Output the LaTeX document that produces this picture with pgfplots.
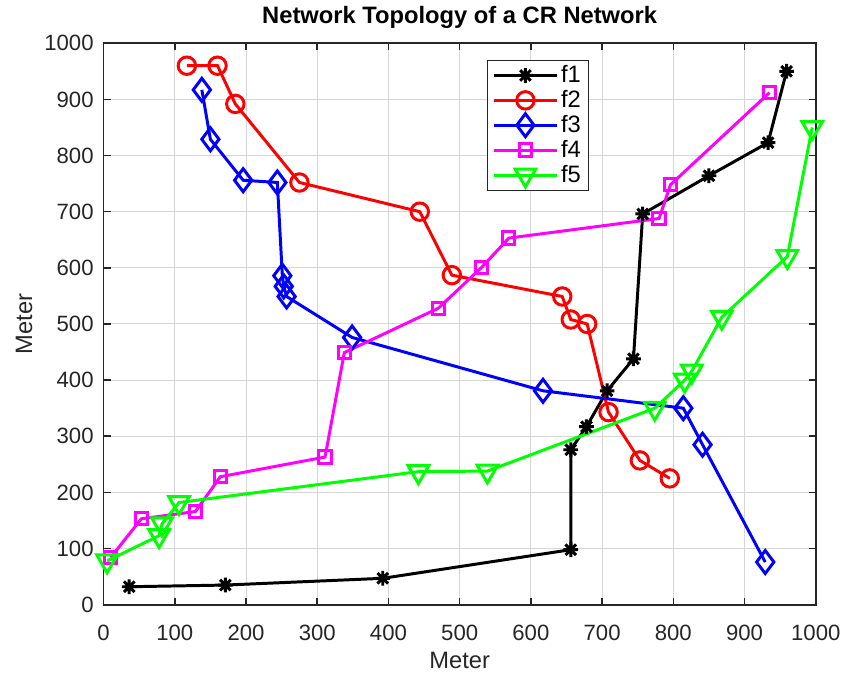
\documentclass[border=0pt]{standalone}
\usepackage{pgfplots}
\pgfplotsset{compat=1.18}
\usepackage{fontspec}
\setmainfont{Liberation Sans}

\definecolor{axgray}{HTML}{262626}
\definecolor{fmag}{rgb}{1,0,1}
\definecolor{fgreen}{rgb}{0,1,0}
\definecolor{fred}{rgb}{1,0,0}
\definecolor{fblue}{rgb}{0,0,1}

% eight-armed asterisk (plus and cross)
\pgfdeclareplotmark{mstar}{%
  \pgfpathmoveto{\pgfqpoint{0pt}{\pgfplotmarksize}}%
  \pgfpathlineto{\pgfqpoint{0pt}{-\pgfplotmarksize}}%
  \pgfpathmoveto{\pgfqpoint{\pgfplotmarksize}{0pt}}%
  \pgfpathlineto{\pgfqpoint{-\pgfplotmarksize}{0pt}}%
  \pgfpathmoveto{\pgfqpoint{0.72\pgfplotmarksize}{0.72\pgfplotmarksize}}%
  \pgfpathlineto{\pgfqpoint{-0.72\pgfplotmarksize}{-0.72\pgfplotmarksize}}%
  \pgfpathmoveto{\pgfqpoint{-0.72\pgfplotmarksize}{0.72\pgfplotmarksize}}%
  \pgfpathlineto{\pgfqpoint{0.72\pgfplotmarksize}{-0.72\pgfplotmarksize}}%
  \pgfusepathqstroke}

\begin{document}
\begin{tikzpicture}
\begin{axis}[
  scale only axis,
  width=359bp, height=283bp,
  xmin=0, xmax=1000, ymin=0, ymax=1000,
  xtick={0,100,...,1000}, ytick={0,100,...,1000},
  grid=major,
  major grid style={line width=0.5bp, color=black!16},
  axis line style={color=axgray, line width=0.8bp},
  tick style={color=axgray, line width=0.8bp},
  major tick length=3.5bp,
  tick align=inside,
  xtick pos=both, ytick pos=both,
  /pgf/number format/assume math mode=true,
  /pgf/number format/1000 sep={},
  tick label style={font=\fontsize{11.2}{13}\selectfont, color=axgray},
  xticklabel style={yshift=-6.5bp},
  yticklabel style={xshift=-1.5bp},
  title={Network Topology of a CR Network},
  title style={font=\fontsize{12}{14}\selectfont\bfseries, at={(rel axis cs:0.5,1.0136)}, anchor=base},
  xlabel={Meter}, ylabel={Meter},
  every axis x label/.style={at={(rel axis cs:0.5,-0.1136)}, anchor=base,
    font=\fontsize{12}{14}\selectfont, color=axgray},
  every axis y label/.style={at={(rel axis cs:-0.1115,0.5)}, rotate=90, anchor=center,
    font=\fontsize{12}{14}\selectfont, color=axgray},
  legend style={at={(rel axis cs:0.538,0.971)}, anchor=north west,
    draw=axgray, line width=0.5bp, fill=white,
    font=\fontsize{12}{14}\selectfont,
    inner xsep=2.5bp, inner ysep=1.5bp, row sep=0bp,
    nodes={inner sep=1.2bp}},
  legend cell align=left,
  legend image code/.code={%
    \draw[mark repeat=2, mark phase=2] plot coordinates {(0bp,0bp) (16bp,0bp) (32bp,0bp)};},
  every axis plot/.append style={line width=1.5bp, mark options={solid, line width=1.5bp}},
]
% f1
\addplot[color=black, mark=mstar, mark size=3.7bp] coordinates {
  (36,32) (171,35) (392,47) (656,98) (656,276) (678,317)
  (707,381) (744,438) (757,696) (850,764) (933,823) (959,950)};
% f2
\addplot[color=fred, mark=o, mark size=4.4bp] coordinates {
  (117,960) (160,960) (185,892) (275,752) (444,700) (489,587)
  (644,549) (656,508) (679,500) (709,343) (753,257) (795,225)};
% f3
\addplot[color=fblue, mark=diamond, mark size=5.8bp] coordinates {
  (138,917) (150,829) (196,756) (244,752) (251,586) (253,567)
  (257,549) (349,476) (617,381) (814,350) (841,285) (929,76)};
% f4
\addplot[color=fmag, mark=square, mark size=3.1bp] coordinates {
  (10,84) (53,153) (129,166) (164,228) (311,263) (338,449)
  (470,528) (531,601) (569,653) (780,688) (796,748) (935,912)};
% f5
\addplot[color=fgreen, mark=triangle, mark size=6bp, mark options={rotate=180}] coordinates {
  (5,78) (78,123) (82,144) (106,182) (442,237) (539,238)
  (774,350) (816,400) (826,416) (868,512) (960,620) (995,850)};
\legend{f1,f2,f3,f4,f5}
\coordinate (frameBL) at (rel axis cs:-0.1454,-0.1224);
\coordinate (frameTR) at (rel axis cs:1.0353,1.0701);
\end{axis}
\path (frameBL) rectangle (frameTR);
\end{tikzpicture}
\end{document}
